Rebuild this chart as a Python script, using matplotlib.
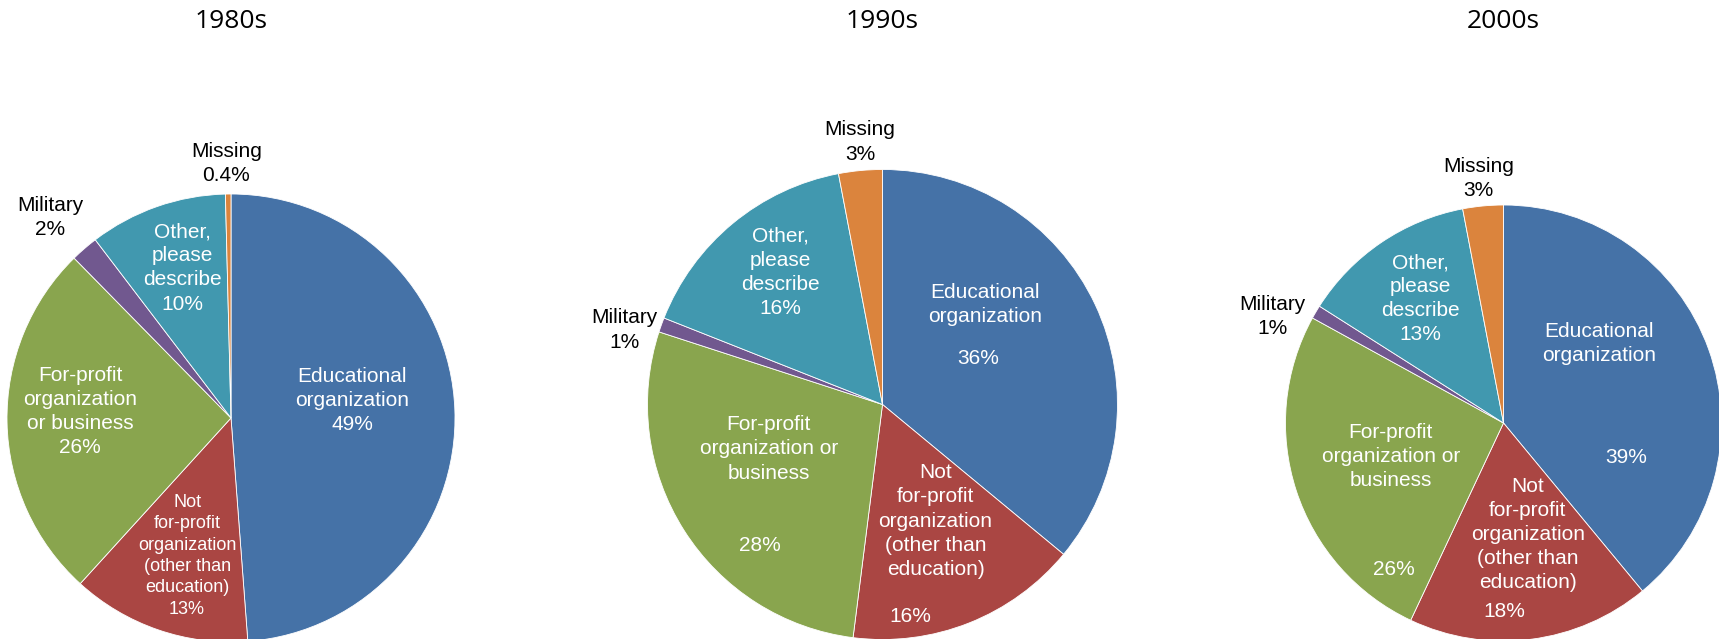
import matplotlib
matplotlib.use("Agg")
import matplotlib.pyplot as plt

# data (share of respondents, %)
decades = ["1980s", "1990s", "2000s"]
share_1980s = [49, 13, 26, 2, 10, 0.4]
share_1990s = [36, 16, 28, 1, 16, 3]
share_2000s = [39, 18, 26, 1, 13, 3]

# slice names, wrapped the way each pie shows them
names_1980s = ["Educational\norganization",
               "Not\nfor-profit\norganization\n(other than\neducation)",
               "For-profit\norganization\nor business",
               "Military", "Other,\nplease\ndescribe", "Missing"]
names_later = ["Educational\norganization",
               "Not\nfor-profit\norganization\n(other than\neducation)",
               "For-profit\norganization or\nbusiness",
               "Military", "Other,\nplease\ndescribe", "Missing"]

colors = ["#4572A7", "#AA4643", "#89A54E", "#71588F", "#4198AF", "#DB843D"]
outside = [3, 5]  # military + missing get black labels outside the pie

W, H = 1719, 639
fig = plt.figure(figsize=(W / 100, H / 100), dpi=100)

# pie centre / radius in pixels, label spots in units of the radius
layout = [
    dict(center=(231, 418), r=224, names=names_1980s,
         name_xy=[(0.542, 0.078), (-0.196, -0.615), (-0.674, 0.029),
                  (-0.808, 0.895), (-0.217, 0.670), (-0.021, 1.135)],
         pct_xy=[None] * 6,
         sizes=[15, 13, 15, 15, 15, 15]),
    dict(center=(882.5, 404.5), r=235, names=names_later,
         name_xy=[(0.437, 0.426), (0.226, -0.496), (-0.484, -0.189),
                  (-1.10, 0.317), (-0.436, 0.563), (-0.095, 1.117)],
         pct_xy=[(0.406, 0.196), (0.117, -0.901), (-0.521, -0.598),
                 None, None, None],
         sizes=[15] * 6),
    dict(center=(1503.5, 423), r=218, names=names_later,
         name_xy=[(0.439, 0.366), (0.112, -0.512), (-0.517, -0.153),
                  (-1.061, 0.490), (-0.383, 0.570), (-0.114, 1.123)],
         pct_xy=[(0.561, -0.157), (0.003, -0.863), (-0.505, -0.673),
                 None, None, None],
         sizes=[15] * 6),
]

shares = [share_1980s, share_1990s, share_2000s]
L = 1.5

for decade, vals, lay in zip(decades, shares, layout):
    cx, cy = lay["center"]
    r = lay["r"]
    ax = fig.add_axes([(cx - L * r) / W, (H - cy - L * r) / H,
                       2 * L * r / W, 2 * L * r / H])
    ax.pie(vals, colors=colors, startangle=90, counterclock=False,
           wedgeprops=dict(edgecolor="white", linewidth=0.6))
    ax.set_xlim(-L, L)
    ax.set_ylim(-L, L)
    ax.set_aspect("equal")

    for i, v in enumerate(vals):
        col = "black" if i in outside else "white"
        pct = f"{v:g}%"
        kw = dict(ha="center", va="center", color=col, family="Liberation Sans",
                  fontsize=lay["sizes"][i], linespacing=1.34)
        if lay["pct_xy"][i] is None:
            ax.text(*lay["name_xy"][i], lay["names"][i] + "\n" + pct, **kw)
        else:
            ax.text(*lay["name_xy"][i], lay["names"][i], **kw)
            ax.text(*lay["pct_xy"][i], pct, **kw)

    fig.text(cx / W, 1 - 21 / H, decade, ha="center", va="center",
             family="Open Sans", fontsize=19)

fig.savefig("out.png", dpi=100)
